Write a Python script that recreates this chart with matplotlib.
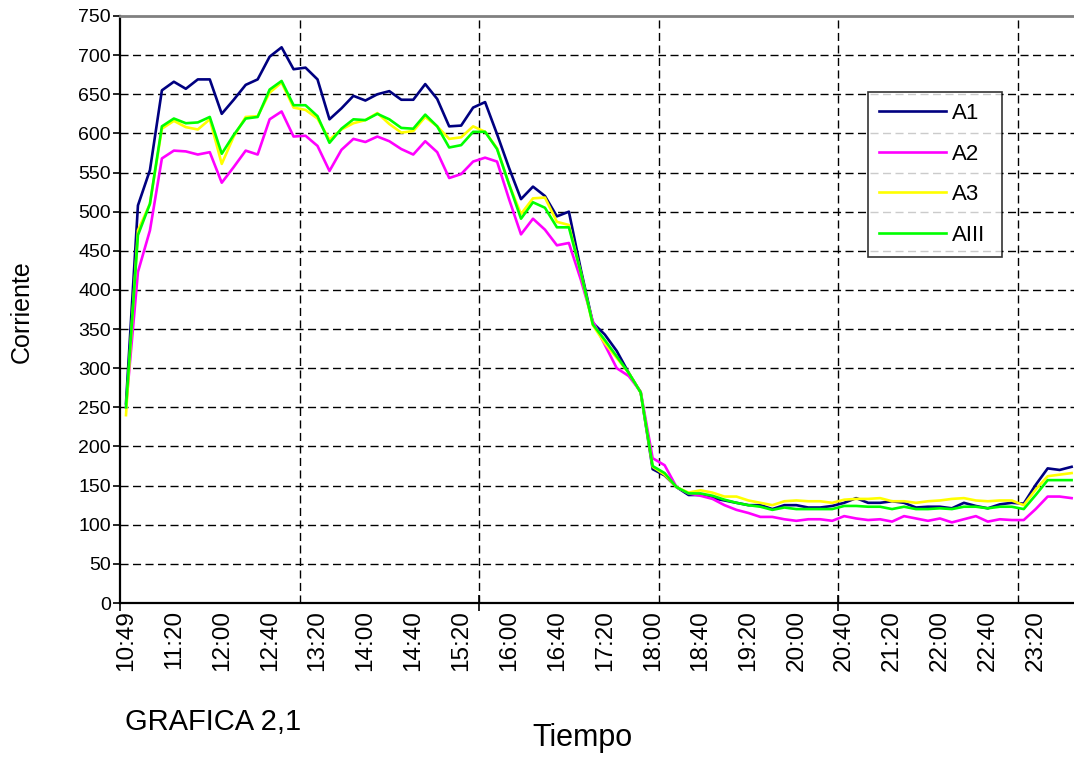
import matplotlib
matplotlib.use("Agg")
import matplotlib.pyplot as plt
import numpy as np

plt.rcParams['font.family'] = ['Liberation Sans', 'DejaVu Sans']
plt.rcParams['lines.scale_dashes'] = False

# ---------------- data ----------------
tick_labels = ["10:49", "11:20", "12:00", "12:40", "13:20", "14:00", "14:40",
               "15:20", "16:00", "16:40", "17:20", "18:00", "18:40", "19:20",
               "20:00", "20:40", "21:20", "22:00", "22:40", "23:20"]

a1 = [255, 508, 553, 655, 666, 657, 669, 669, 625, 643, 662, 669, 698, 710, 682, 684,
      669, 618, 632, 648, 642, 650, 654, 643, 643, 663, 644, 609, 610, 633, 640, 599,
      556, 516, 532, 520, 494, 500, 426, 358, 343, 322, 294, 269, 171, 163, 148, 138,
      138, 134, 131, 128, 125, 125, 120, 125, 125, 122, 122, 124, 128, 134, 128, 128,
      130, 128, 122, 123, 123, 121, 128, 124, 121, 126, 128, 127, 151, 172, 170, 174]

a2 = [250, 423, 476, 568, 578, 577, 573, 576, 537, 557, 578, 573, 618, 628, 596, 597,
      584, 552, 579, 593, 589, 596, 590, 580, 573, 590, 576, 543, 548, 564, 569, 564,
      516, 471, 491, 477, 457, 460, 413, 360, 330, 300, 290, 270, 185, 176, 148, 140,
      137, 133, 125, 119, 115, 110, 110, 107, 105, 107, 107, 105, 111, 108, 106, 107,
      104, 111, 108, 105, 108, 103, 107, 111, 104, 107, 106, 106, 120, 136, 136, 134]

a3 = [240, 476, 510, 606, 616, 608, 605, 618, 561, 596, 621, 622, 652, 665, 633, 630,
      619, 592, 605, 613, 617, 626, 612, 601, 603, 621, 609, 593, 595, 609, 602, 581,
      535, 497, 517, 518, 487, 483, 422, 355, 332, 313, 294, 269, 174, 164, 148, 141,
      144, 141, 136, 136, 131, 128, 125, 130, 131, 130, 130, 128, 132, 133, 133, 134,
      130, 130, 128, 130, 131, 133, 134, 131, 130, 131, 131, 125, 145, 162, 164, 166]

aiii = [250, 470, 510, 609, 619, 613, 614, 621, 574, 598, 619, 621, 656, 667, 636, 636,
        622, 588, 606, 618, 617, 625, 618, 607, 606, 624, 609, 582, 585, 602, 602, 580,
        535, 491, 512, 505, 480, 480, 422, 356, 336, 315, 294, 269, 175, 166, 148, 140,
        140, 137, 132, 128, 125, 123, 119, 122, 120, 120, 120, 120, 124, 124, 123, 123,
        120, 123, 120, 120, 121, 120, 123, 123, 121, 123, 123, 120, 138, 157, 157, 157]

series = [("A1", a1, "#000080"), ("A2", a2, "#FF00FF"),
          ("A3", a3, "#FFFF00"), ("AIII", aiii, "#00FF00")]

# ---------------- figure ----------------
W, H = 1074, 757
fig = plt.figure(figsize=(W / 100, H / 100), dpi=100)
n = len(a1)
cat_w = 11.97
left = 120 / W
bottom = 1 - 603 / H
top = 1 - 16 / H
ax = fig.add_axes([left, bottom, n * cat_w / W, top - bottom])

x = np.arange(n)
for name, vals, col in series:
    ax.plot(x, vals, color=col, lw=1.9, label=name, zorder=3)

ax.set_xlim(-0.5, n - 0.5)
ax.set_ylim(0, 750)

# gridlines
for yv in range(50, 750, 50):
    ax.axhline(yv, color='black', lw=1.0, dashes=(5.8, 3.2), zorder=1)
for xv in np.arange(15, n, 15) - 0.5:
    ax.axvline(xv, color='black', lw=1.0, dashes=(5.8, 3.2), zorder=1)

# y ticks
ax.set_yticks(range(0, 751, 50))
ax.tick_params(axis='y', direction='out', length=5, width=1.2, pad=1.5,
               labelsize=14, colors='black')

# x ticks: labels every 4 categories, tick marks every 30 categories
ax.set_xticks(np.arange(0, n, 4)[:len(tick_labels)])
ax.set_xticklabels(tick_labels)
ax.tick_params(axis='x', which='major', length=0, pad=5, labelsize=17.5,
               labelrotation=90)
ax.set_xticks(np.arange(0, n, 30) - 0.5, minor=True)
ax.tick_params(axis='x', which='minor', direction='inout', length=11, width=1.2)

for s in ['left', 'bottom']:
    ax.spines[s].set_color('black')
    ax.spines[s].set_linewidth(1.6)
ax.spines['top'].set_color('#808080')
ax.spines['top'].set_linewidth(2.0)
ax.spines['right'].set_visible(False)

# legend
lx0, ly0, lx1, ly1 = 868, 92, 1002, 253
leg = ax.legend(loc='upper left',
                bbox_to_anchor=(lx0 / W, 1 - ly1 / H, (lx1 - lx0) / W, (ly1 - ly0) / H),
                bbox_transform=fig.transFigure, mode='expand', fontsize=16,
                frameon=True, fancybox=False, shadow=False, handlelength=3.0,
                handletextpad=0.3, labelspacing=0.88, borderpad=0.5,
                borderaxespad=0)
leg.get_frame().set_edgecolor('black')
leg.get_frame().set_linewidth(1.2)
for lh in leg.get_lines():
    lh.set_linewidth(1.9)

# texts
fig.text(22 / W, 1 - 312 / H, 'Corriente', rotation=90, ha='center',
         va='center', fontsize=18)
fig.text(582 / W, 1 - 738 / H, 'Tiempo', ha='center', va='center', fontsize=22)
fig.text(125 / W, 1 - 722 / H, 'GRAFICA 2,1', ha='left', va='center',
         fontsize=21)

fig.savefig('out.png', dpi=100)
